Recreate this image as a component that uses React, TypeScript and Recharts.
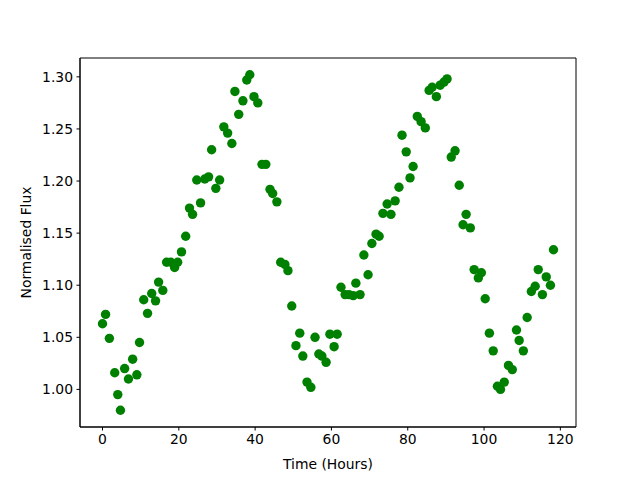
import { ScatterChart, Scatter, XAxis, YAxis, ReferenceArea } from 'recharts';

// time (hours) and normalised flux
const hours = [
  0, 0.8, 1.8, 3.2, 4, 4.7, 5.8, 6.8, 7.9, 9, 9.7, 10.8, 11.8, 12.9, 13.9, 14.7,
  15.8, 16.8, 17.9, 18.9, 19.7, 20.7, 21.8, 22.8, 23.6, 24.7, 25.7, 26.8, 27.8,
  28.6, 29.7, 30.7, 31.8, 32.8, 33.9, 34.7, 35.7, 36.8, 37.8, 38.6, 39.7, 40.7,
  41.8, 42.8, 43.9, 44.6, 45.7, 46.7, 47.8, 48.6, 49.6, 50.7, 51.7, 52.5, 53.6,
  54.6, 55.7, 56.7, 57.5, 58.6, 59.6, 60.7, 61.5, 62.5, 63.6, 64.6, 65.7, 66.4,
  67.5, 68.5, 69.6, 70.6, 71.7, 72.5, 73.5, 74.6, 75.6, 76.7, 77.7, 78.5, 79.6,
  80.6, 81.4, 82.5, 83.5, 84.6, 85.6, 86.4, 87.5, 88.5, 89.5, 90.3, 91.4, 92.4,
  93.5, 94.5, 95.3, 96.4, 97.4, 98.5, 99.3, 100.3, 101.4, 102.4, 103.5, 104.3,
  105.3, 106.4, 107.4, 108.5, 109.2, 110.3, 111.3, 112.4, 113.4, 114.2, 115.3,
  116.3, 117.4, 118.2,
];

const flux = [
  1.063, 1.072, 1.049, 1.016, 0.995, 0.98, 1.02, 1.01, 1.029, 1.014, 1.045, 1.086,
  1.073, 1.092, 1.085, 1.103, 1.095, 1.122, 1.122, 1.117, 1.122, 1.132, 1.147,
  1.174, 1.168, 1.201, 1.179, 1.202, 1.204, 1.23, 1.193, 1.201, 1.252, 1.246,
  1.236, 1.286, 1.264, 1.277, 1.297, 1.302, 1.281, 1.275, 1.216, 1.216, 1.192,
  1.188, 1.18, 1.122, 1.12, 1.114, 1.08, 1.042, 1.054, 1.032, 1.007, 1.002, 1.05,
  1.034, 1.032, 1.026, 1.053, 1.041, 1.053, 1.098, 1.091, 1.091, 1.09, 1.102,
  1.091, 1.129, 1.11, 1.14, 1.149, 1.147, 1.169, 1.178, 1.168, 1.181, 1.194,
  1.244, 1.228, 1.203, 1.214, 1.262, 1.257, 1.251, 1.287, 1.29, 1.281, 1.292,
  1.295, 1.298, 1.223, 1.229, 1.196, 1.158, 1.168, 1.155, 1.115, 1.107, 1.112,
  1.087, 1.054, 1.037, 1.003, 1.0, 1.007, 1.023, 1.019, 1.057, 1.047, 1.037,
  1.069, 1.094, 1.099, 1.115, 1.091, 1.108, 1.1, 1.134,
];

const xTicks = [0, 20, 40, 60, 80, 100, 120];
const yTicks = [1.0, 1.05, 1.1, 1.15, 1.2, 1.25, 1.3];

const X_DOMAIN = [-5.9, 124.1];
const Y_DOMAIN = [0.9639, 1.3181];

const data = hours.map((t, i) => ({ t, f: flux[i] }));

const FONT = 'DejaVu Sans';
const tickStyle = { fontSize: 13.9, fill: '#000', fontFamily: FONT };

const Dot = (props: any) => (
  <circle cx={props.cx} cy={props.cy} r={4.7} fill="#008000" />
);

export default function App() {
  return (
    <div style={{ position: 'absolute', top: 0, left: 0, width: 640, height: 480, background: '#fff' }}>
      <ScatterChart width={640} height={480} margin={{ top: 58, right: 64, bottom: 0, left: 0 }}>
        <XAxis
          type="number"
          dataKey="t"
          domain={X_DOMAIN}
          ticks={xTicks}
          allowDataOverflow
          height={53}
          tick={tickStyle}
          tickSize={3.5}
          tickMargin={4}
          stroke="#000"
          label={{
            value: 'Time (Hours)',
            position: 'insideBottom',
            offset: 11,
            style: { fontSize: 13.9, fill: '#000', fontFamily: FONT },
          }}
        />
        <YAxis
          type="number"
          dataKey="f"
          domain={Y_DOMAIN}
          ticks={yTicks}
          allowDataOverflow
          width={80}
          tick={tickStyle}
          tickSize={3.5}
          tickMargin={3.5}
          tickFormatter={(v: number) => v.toFixed(2)}
          stroke="#000"
          label={{
            content: () => (
              <text
                x={26}
                y={242.5}
                transform="rotate(-90, 26, 242.5)"
                textAnchor="middle"
                dominantBaseline="central"
                fontSize={13.9}
                fontFamily={FONT}
                fill="#000"
              >
                Normalised Flux
              </text>
            ),
          }}
        />
        {/* axes frame */}
        <ReferenceArea
          x1={X_DOMAIN[0]}
          x2={X_DOMAIN[1]}
          y1={Y_DOMAIN[0]}
          y2={Y_DOMAIN[1]}
          fill="none"
          fillOpacity={0}
          stroke="#000"
          strokeWidth={1}
          ifOverflow="visible"
        />
        <Scatter data={data} shape={Dot} isAnimationActive={false} />
      </ScatterChart>
    </div>
  );
}
